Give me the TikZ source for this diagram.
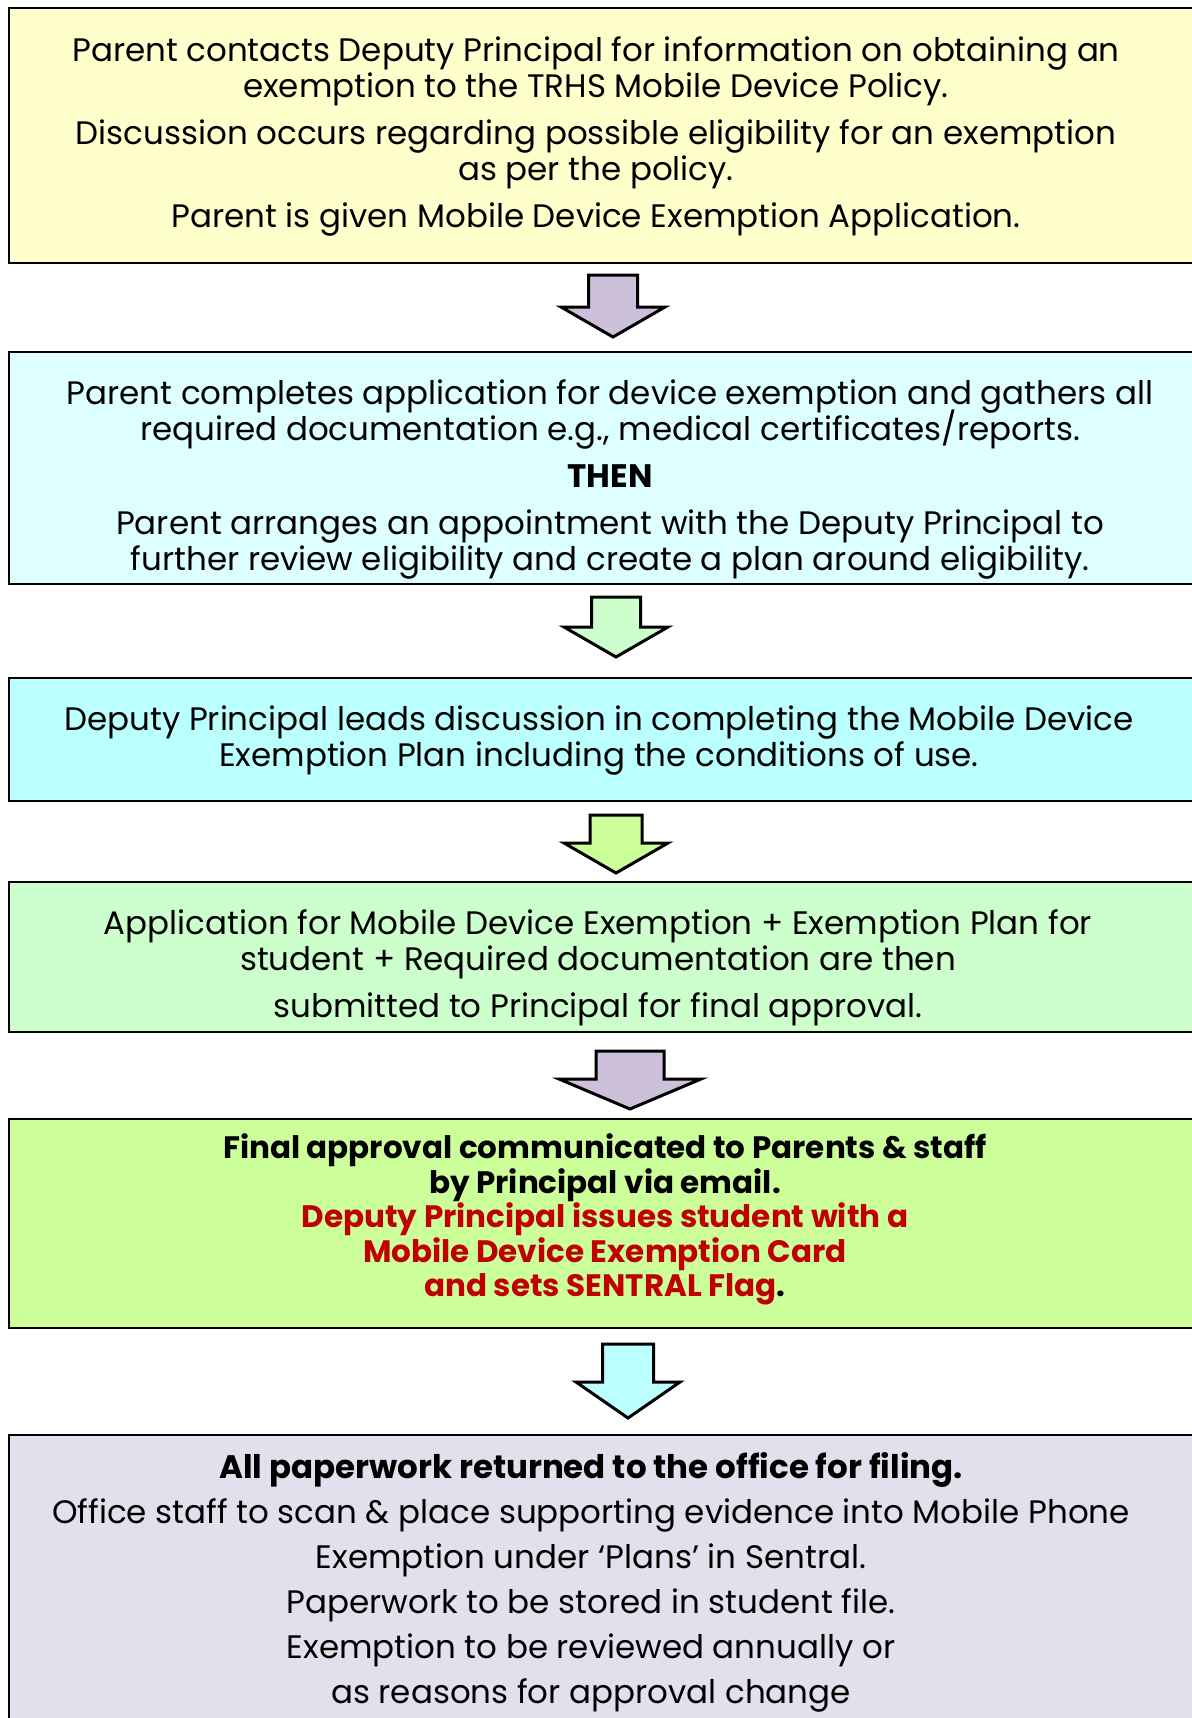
\documentclass[tikz,border=0pt]{standalone}
\usepackage{fontspec}
\setmainfont{Poppins}
\setlength{\lineskiplimit}{-20pt}

% Colores
\definecolor{amarillo}{HTML}{FFFFCC}
\definecolor{celeste}{HTML}{DDFFFF}
\definecolor{cian}{HTML}{BBFFFF}
\definecolor{verdeclaro}{HTML}{CCFFCC}
\definecolor{verdelima}{HTML}{CCFF99}
\definecolor{lavanda}{HTML}{E4DFEC}
\definecolor{lila}{HTML}{CCC0DA}
\definecolor{rojo}{HTML}{C00000}

% Flecha de bloque: color, x de la punta, y de arriba, medio tallo, media cabeza, largo tallo, largo cabeza
\newcommand{\flecha}[7]{%
  \filldraw[flechabloque, fill=#1] (#2-#4,#3) -- ++(0,#6) -- (#2-#5,#3+#6)
    -- (#2,#3+#6+#7) -- (#2+#5,#3+#6) -- (#2+#4,#3+#6) -- (#2+#4,#3) -- cycle;
}

\begin{document}
\begin{tikzpicture}[x=0.5pt,y=-0.5pt,
    caja/.style={draw=black, line width=1pt},
    texto/.style={align=center, inner sep=0pt, font=\fontsize{16.25}{18}\selectfont},
    flechabloque/.style={draw=black, line width=1.5pt, line join=miter}]
    \useasboundingbox (0,0) rectangle (1192,1718);
    \clip (0,0) rectangle (1192,1718);

    % Cajas
    \filldraw[caja, fill=amarillo]   (9,8)    rectangle (1215,263);
    \filldraw[caja, fill=celeste]    (9,352)  rectangle (1215,584);
    \filldraw[caja, fill=cian]       (9,678)  rectangle (1215,801);
    \filldraw[caja, fill=verdeclaro] (9,882)  rectangle (1215,1032);
    \filldraw[caja, fill=verdelima]  (9,1119) rectangle (1215,1328);
    \filldraw[caja, fill=lavanda]    (9,1435) rectangle (1215,1740);

    % Textos
    \node[texto] (contacto) at (596,136) {Parent contacts Deputy Principal for information on obtaining an\\
        exemption to the TRHS Mobile Device Policy.\\[5.5pt]
        Discussion occurs regarding possible eligibility for an exemption\\
        as per the policy.\\[5.5pt]
        Parent is given Mobile Device Exemption Application.};
    \node[texto] (solicitud) at (610,479) {Parent completes application for device exemption and gathers all\\
        required documentation e.g., medical certificates/reports.\\[5.5pt]
        \textbf{THEN}\\[5.5pt]
        Parent arranges an appointment with the Deputy Principal to\\
        further review eligibility and create a plan around eligibility.};
    \node[texto] (plan) at (599,741) {Deputy Principal leads discussion in completing the Mobile Device\\
        Exemption Plan including the conditions of use.};
    \node[texto] (envio) at (598,967.5) {Application for Mobile Device Exemption + Exemption Plan for\\
        student + Required documentation are then\\[5.5pt]
        submitted to Principal for final approval.};
    \node[texto, font=\fontsize{15.5}{17.25}\selectfont\bfseries] (aprobacion) at (605,1219.5) {Final approval communicated to Parents \& staff\\
        by Principal via email.\\
        \textcolor{rojo}{Deputy Principal issues student with a}\\
        \textcolor{rojo}{Mobile Device Exemption Card}\\
        \textcolor{rojo}{and sets SENTRAL Flag}.};
    \node[texto, font=\fontsize{16.25}{22.5}\selectfont] (archivo) at (591,1582.5) {\textbf{All paperwork returned to the office for filing.}\\
        Office staff to scan \& place supporting evidence into Mobile Phone\\
        Exemption under ‘Plans’ in Sentral.\\
        Paperwork to be stored in student file.\\
        Exemption to be reviewed annually or\\
        as reasons for approval change};

    % Flechas
    \flecha{lila}{613}{275}{24.5}{52}{32}{30}
    \flecha{verdeclaro}{616}{597}{24.5}{52}{30}{30}
    \flecha{verdelima}{616}{815}{26}{52}{28}{30}
    \flecha{lila}{630}{1051}{34}{71}{28}{30}
    \flecha{cian}{628}{1344}{25.5}{52}{38}{36}
\end{tikzpicture}
\end{document}
